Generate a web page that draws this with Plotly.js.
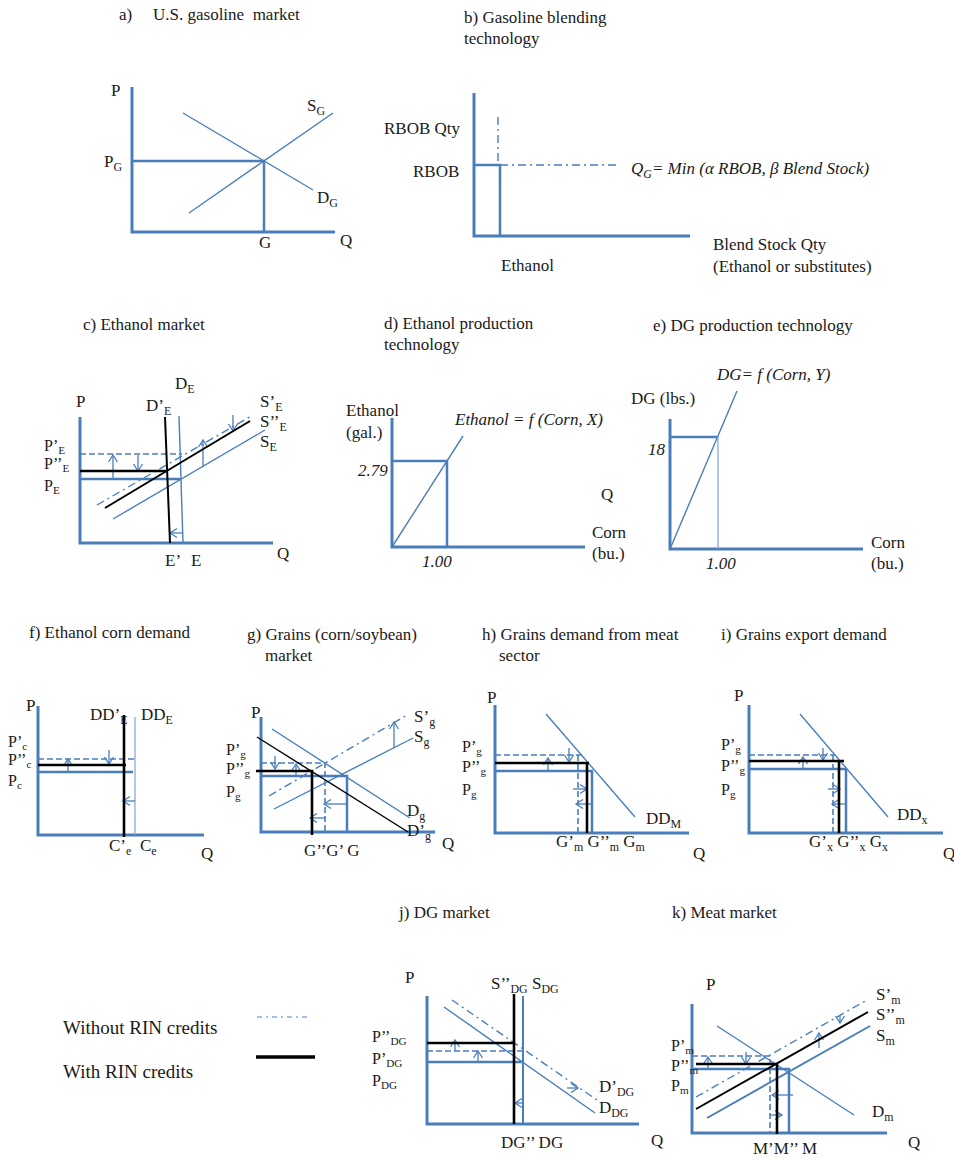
<!DOCTYPE html>
<html><head><meta charset="utf-8">
<script src="https://cdn.plot.ly/plotly-3.0.1.min.js"></script>
<style>html,body{margin:0;padding:0;background:#fff}#chart{width:954px;height:1158px}</style>
</head><body><div id="chart"></div>
<script>
// ---- Schematic data (diagram coordinates, y grows downward) ----
const axesLines = [
  [[132,87],[132,232],[335,232]],
  [[474,93],[474,236],[690,236]],
  [[80,417],[80,543],[273,543]],
  [[392,418],[392,547],[585,547]],
  [[670,419],[670,549],[863,549]],
  [[38,706],[38,835],[204,835]],
  [[261,717],[261,832],[435,832]],
  [[495,705],[495,833],[689,833]],
  [[749,705],[749,833],[943,833]],
  [[427,996],[427,1124],[639,1124]],
  [[692,1004],[692,1133],[887,1133]]
];
const bluePriceLines = [
  [[132,161],[264,161],[264,232]],
  [[474,165],[500,165],[500,236]],
  [[80,479],[180,479]],
  [[392,461],[447,461],[447,547]],
  [[670,437],[718,437]],
  [[38,772],[133,772]],
  [[261,776],[347,776],[347,832]],
  [[495,771],[593,771]],[[592,771],[592,833]],
  [[749,769],[847,769]],[[846,769],[846,833]],
  [[427,1062],[523,1062]],
  [[692,1069],[789,1069],[789,1133]]
];
const blueCurves = [
  [[189,213],[333,113]], [[183,113],[313,190]],
  [[179,416],[183,543]], [[113,519],[265,430]],
  [[392,547],[463,436]],
  [[670,549],[737,391]],
  [[272,729],[410,818]], [[274,809],[413,738]],
  [[546,714],[635,817]],
  [[800,714],[888,817]],
  [[444,1007],[595,1113]],
  [[717,1026],[854,1115]]
];
const blueThin = [ [[718,437],[718,549]], [[135,717],[135,835]] ];
const blueThick = [ [[523,996],[523,1124]], [[707,1118],[870,1026]] ];
const blackPrice = [
  [[80,471],[166,471]],
  [[124,715],[124,837]], [[38,765],[126,765]],
  [[256,771],[312,771],[312,835]],
  [[495,763],[589,763]], [[587,763],[587,833]],
  [[749,761],[844,761]], [[839,761],[839,833]],
  [[514,994],[514,1124]], [[427,1043],[513,1043]],
  [[696,1064],[777,1064],[777,1134]]
];
const blackCurves = [
  [[165,417],[170,543]], [[105,508],[250,421]],
  [[696,1109],[868,1012]]
];
const blackThin = [ [[257,737],[408,832]] ];
const dashedLines = [
  [[80,454],[182,454]],
  [[38,759],[135,759]],
  [[261,763],[325,763],[325,832]],
  [[495,755],[583,755]], [[578,755],[578,833]],
  [[749,755],[835,755]], [[833,755],[833,833]],
  [[427,1051],[523,1051]],
  [[692,1056],[770,1056],[770,1133]]
];
const dashDotLines = [
  [[498,117],[498,165]], [[500,165],[620,165]],
  [[97,505],[253,415]],
  [[269,796],[407,715]],
  [[452,1000],[597,1100]],
  [[696,1097],[867,1000]]
];
const legendDashDot = [ [[257,1017],[310,1017]] ];
const legendSolid = [ [[256,1057],[315,1057]] ];
// arrows: [x1,y1,x2,y2], head at (x2,y2)
const shiftArrows = [
  [113,480,113,455],[138,455,138,471],[203,466,203,440],[233,415,233,431],[183,533,170,533],
  [68,772,68,759],[109,750,109,764],[135,801,123,801],
  [275,756,275,769],[296,776,296,764],[347,804,324,804],[325,818,310,818],[394,748,394,722],
  [569,748,569,762],[548,771,548,758],[573,789,587,789],[593,804,576,804],
  [823,748,823,760],[803,769,803,757],[828,789,840,789],[847,804,832,804],
  [455,1051,455,1040],[478,1062,478,1051],[567,1088,578,1088],[523,1103,515,1103],
  [708,1069,708,1057],[746,1052,746,1064],[819,1048,819,1033],[840,1015,840,1023],[793,1095,772,1095],[770,1115,782,1115]
];
// labels: [text, x(left), y(center)]
const titleLabels = [
  ["a)",118,14],["U.S. gasoline&nbsp;&nbsp;market",152,14],
  ["b) Gasoline blending",463,17],["technology",463,38],
  ["c) Ethanol market",82,324],
  ["d) Ethanol production",383,323],["technology",383,344],
  ["e) DG production technology",652,325],
  ["f) Ethanol corn demand",28,632],
  ["g) Grains (corn/soybean)",246,634],["market",264,655],
  ["h) Grains demand from meat",481,634],["sector",498,655],
  ["i) Grains export demand",720,634],
  ["j) DG market",397,912],
  ["k) Meat market",671,912]
];
const axisLabels = [
  ["P",110,90],["P<sub>G</sub>",103,163],["S<sub>G</sub>",306,107],["D<sub>G</sub>",316,199],["G",258,242],["Q",339,240],
  ["RBOB Qty",383,128],["RBOB",412,171],["<i>Q<sub>G</sub>= Min (α RBOB, β Blend Stock)</i>",630,170],
  ["Ethanol",500,265],["Blend Stock Qty",712,244],["(Ethanol or substitutes)",712,266],
  ["P",75,401],["D<sub>E</sub>",174,385],["D’<sub>E</sub>",145,407],["S’<sub>E</sub>",259,403],["S’’<sub>E</sub>",259,423],["S<sub>E</sub>",259,443],
  ["E’",164,560],["E",190,560],["Q",276,553],
  ["Ethanol",345,410],["(gal.)",345,432],["<i>2.79</i>",357,470],["<i>1.00</i>",421,561],["<i>Ethanol = f (Corn, X)</i>",453,419],
  ["Q",600,494],["Corn",591,532],["(bu.)",591,553],
  ["DG (lbs.)",630,398],["<i>18</i>",647,449],["<i>1.00</i>",705,563],["<i>DG= f (Corn, Y)</i>",715,374],["Corn",870,542],["(bu.)",870,563],
  ["P",25,705],["DD’<sub>E</sub>",89,716],["DD<sub>E</sub>",140,716],
  ["C’<sub>e</sub>",108,847],["C<sub>e</sub>",139,847],["Q",200,853],
  ["P",250,712],["S’<sub>g</sub>",413,718],["S<sub>g</sub>",413,738],
  ["D<sub>g</sub>",406,812],["D’<sub>g</sub>",406,832],["G’’G’ G",303,850],["Q",441,843],
  ["P",486,697],["DD<sub>M</sub>",645,820],
  ["G’<sub>m</sub> G’’<sub>m</sub> G<sub>m</sub>",555,843],["Q",692,853],
  ["P",733,695],["DD<sub>x</sub>",896,816],
  ["G’<sub>x</sub> G’’<sub>x</sub> G<sub>x</sub>",808,843],["Q",942,853],
  ["P",404,977],["S’’<sub>DG</sub> S<sub>DG</sub>",490,985],
  ["D’<sub>DG</sub>",598,1088],["D<sub>DG</sub>",598,1109],["DG’’ DG",500,1142],["Q",650,1140],
  ["P",705,984],["S’<sub>m</sub>",875,996],["S’’<sub>m</sub>",875,1016],["S<sub>m</sub>",875,1037],["D<sub>m</sub>",871,1113],
  ["M’M’’ M",752,1148],["Q",907,1142]
];
// stacked price labels beside the vertical axes
const priceLabels = [
  ["P’<sub>E</sub>",43,446],["P’’<sub>E</sub>",43,464],["P<sub>E</sub>",43,486],
  ["P’<sub>c</sub>",7,742],["P’’<sub>c</sub>",7,760],["P<sub>c</sub>",7,781],
  ["P’<sub>g</sub>",225,750],["P’’<sub>g</sub>",225,769],["P<sub>g</sub>",225,792],
  ["P’<sub>g</sub>",461,747],["P’’<sub>g</sub>",461,767],["P<sub>g</sub>",461,790],
  ["P’<sub>g</sub>",720,745],["P’’<sub>g</sub>",720,766],["P<sub>g</sub>",720,790],
  ["P’’<sub>DG</sub>",371,1037],["P’<sub>DG</sub>",371,1059],["P<sub>DG</sub>",371,1081],
  ["P’<sub>m</sub>",670,1046],["P’’<sub>m</sub>",670,1066],["P<sub>m</sub>",670,1086]
];
const legendLabels = [ ["Without RIN credits",62,1027], ["With RIN credits",62,1071] ];

// ---- Build traces ----
const BLUE = '#4A7EBB';
function toXY(polys){
  const x=[],y=[];
  polys.forEach(p=>{ p.forEach(pt=>{x.push(pt[0]);y.push(pt[1]);}); x.push(null); y.push(null); });
  return {x,y};
}
function lineTrace(polys,color,width,dash){
  const d=toXY(polys);
  return {type:'scatter',mode:'lines',x:d.x,y:d.y,hoverinfo:'skip',showlegend:false,
    line:{color:color,width:width,dash:dash||'solid'}};
}
function arrowPolys(arrs){
  const out=[];
  arrs.forEach(a=>{
    const [x1,y1,x2,y2]=a; const dx=x2-x1, dy=y2-y1; const L=Math.hypot(dx,dy)||1;
    const ux=dx/L, uy=dy/L, h=7, w=4.5;
    out.push([[x1,y1],[x2,y2]]);
    out.push([[x2-ux*h-uy*w, y2-uy*h+ux*w],[x2,y2],[x2-ux*h+uy*w, y2-uy*h-ux*w]]);
  });
  return out;
}
const traces = [
  lineTrace(axesLines,BLUE,3),
  lineTrace(bluePriceLines,BLUE,2.5),
  lineTrace(blueCurves,BLUE,1.4),
  lineTrace(blueThin,'#7FA3D3',1.2),
  lineTrace(blueThick,BLUE,2),
  lineTrace(dashedLines,BLUE,1.6,'6px,3px'),
  lineTrace(dashDotLines,BLUE,1.4,'8px,4px,2px,4px'),
  lineTrace(legendDashDot,BLUE,1,'5px,4px,2px,4px'),
  lineTrace(arrowPolys(shiftArrows),BLUE,1.3),
  lineTrace(blackCurves,'#000',2),
  lineTrace(blackThin,'#000',1.4),
  lineTrace(blackPrice,'#000',2.6),
  lineTrace(legendSolid,'#000',3.5)
];
const FAM = '"Liberation Serif","Times New Roman",serif';
const FONT = {family:FAM,size:17,color:'#1a1a1a'};
const PFONT = {family:FAM,size:16,color:'#1a1a1a'};
const LEGFONT = {family:FAM,size:19,color:'#1a1a1a'};
const annotations = [];
function addLabels(group,font){
  group.forEach(l=>{
    annotations.push({text:l[0],x:l[1],y:l[2],xref:'x',yref:'y',xanchor:'left',yanchor:'middle',
      showarrow:false,font:font,borderpad:0});
  });
}
addLabels(titleLabels,FONT);
addLabels(axisLabels,FONT);
addLabels(priceLabels,PFONT);
addLabels(legendLabels,LEGFONT);
const layout = {
  width:954,height:1158,margin:{l:0,r:0,t:0,b:0},paper_bgcolor:'#fff',plot_bgcolor:'#fff',
  xaxis:{range:[0,954],visible:false,fixedrange:true},
  yaxis:{range:[1158,0],visible:false,fixedrange:true},
  showlegend:false,annotations:annotations
};
Plotly.newPlot('chart',traces,layout,{staticPlot:true,displayModeBar:false});
</script></body></html>
